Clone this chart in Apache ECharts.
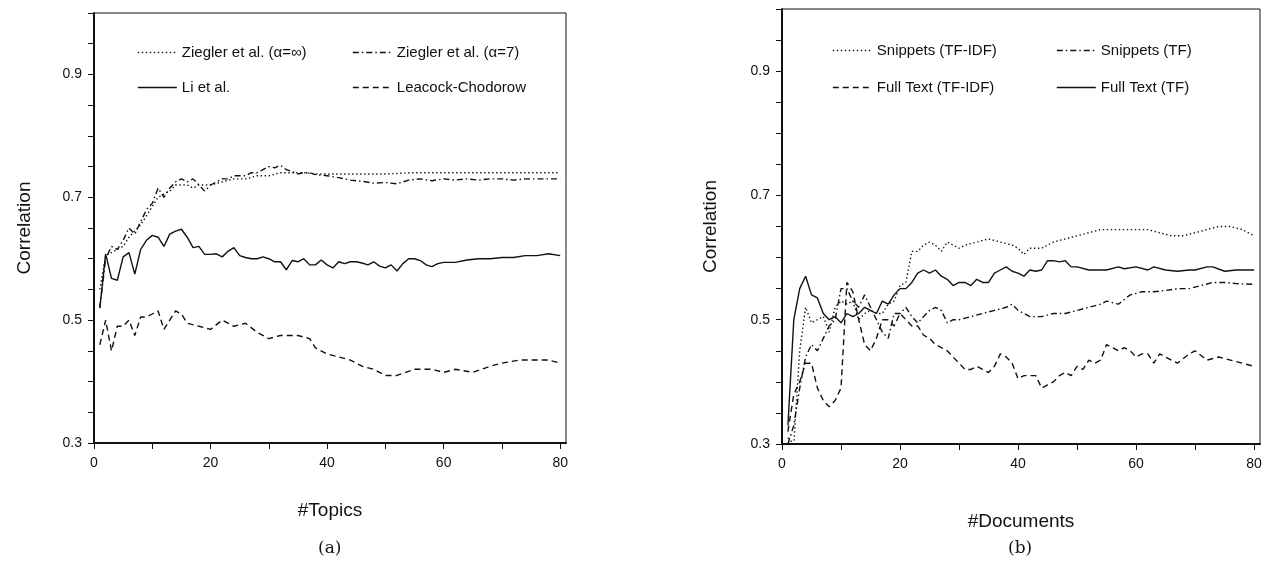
<!DOCTYPE html>
<html><head><meta charset="utf-8">
<script src="https://cdn.jsdelivr.net/npm/echarts@6/dist/echarts.min.js"></script>
<style>html,body{margin:0;padding:0;background:#fff}#c{width:1274px;height:578px}</style>
</head><body><div id="c"></div>
<script>
// ---- data (x = #Topics / #Documents, y = correlation) ----
const zieglerInf = [[1,0.55],[2,0.605],[3,0.61],[4,0.615],[5,0.62],[6,0.635],[7,0.645],[8,0.655],[9,0.67],[10,0.685],[11,0.7],[12,0.705],[13,0.71],[14,0.72],[15,0.72],[16,0.72],[17,0.715],[18,0.72],[19,0.72],[20,0.72],[22,0.725],[24,0.73],[26,0.73],[28,0.735],[30,0.735],[32,0.74],[34,0.74],[36,0.74],[38,0.738],[40,0.738],[45,0.738],[50,0.738],[55,0.74],[60,0.74],[65,0.74],[70,0.74],[75,0.74],[80,0.74]];
const ziegler7 = [[1,0.52],[2,0.6],[3,0.62],[4,0.615],[5,0.63],[6,0.65],[7,0.64],[8,0.66],[9,0.68],[10,0.69],[11,0.715],[12,0.7],[13,0.715],[14,0.725],[15,0.73],[16,0.725],[17,0.73],[18,0.72],[19,0.71],[20,0.72],[21,0.725],[22,0.73],[23,0.73],[24,0.735],[25,0.735],[26,0.735],[27,0.74],[28,0.74],[29,0.745],[30,0.75],[31,0.748],[32,0.752],[33,0.745],[34,0.742],[35,0.738],[36,0.74],[37,0.74],[38,0.737],[40,0.735],[42,0.732],[44,0.728],[46,0.726],[48,0.723],[50,0.724],[52,0.722],[54,0.728],[56,0.73],[58,0.727],[60,0.73],[62,0.728],[64,0.73],[66,0.728],[68,0.73],[70,0.73],[72,0.728],[74,0.73],[76,0.73],[78,0.73],[80,0.73]];
const liEtAl = [[1,0.52],[2,0.608],[3,0.568],[4,0.565],[5,0.603],[6,0.61],[7,0.575],[8,0.615],[9,0.63],[10,0.638],[11,0.635],[12,0.62],[13,0.64],[14,0.645],[15,0.648],[16,0.635],[17,0.618],[18,0.62],[19,0.607],[20,0.607],[21,0.608],[22,0.603],[23,0.612],[24,0.618],[25,0.605],[26,0.602],[27,0.6],[28,0.6],[29,0.603],[30,0.6],[31,0.595],[32,0.595],[33,0.582],[34,0.597],[35,0.595],[36,0.6],[37,0.59],[38,0.59],[39,0.598],[40,0.59],[41,0.585],[42,0.595],[43,0.592],[44,0.595],[45,0.595],[46,0.593],[47,0.59],[48,0.595],[49,0.588],[50,0.585],[51,0.59],[52,0.58],[53,0.592],[54,0.6],[55,0.6],[56,0.597],[57,0.59],[58,0.587],[59,0.592],[60,0.594],[62,0.594],[64,0.598],[66,0.6],[68,0.6],[70,0.602],[72,0.602],[74,0.605],[76,0.605],[78,0.608],[80,0.605]];
const leacock = [[1,0.46],[2,0.5],[3,0.45],[4,0.49],[5,0.49],[6,0.5],[7,0.475],[8,0.505],[9,0.505],[10,0.51],[11,0.515],[12,0.485],[13,0.5],[14,0.515],[15,0.51],[16,0.495],[18,0.49],[20,0.485],[22,0.5],[24,0.49],[26,0.495],[28,0.48],[30,0.47],[32,0.475],[35,0.475],[37,0.47],[38,0.455],[40,0.445],[42,0.44],[44,0.435],[46,0.425],[48,0.42],[50,0.41],[52,0.41],[55,0.42],[58,0.42],[60,0.415],[62,0.42],[65,0.415],[68,0.425],[70,0.43],[73,0.435],[75,0.435],[78,0.435],[80,0.43]];

const snipTfidf = [[1,0.31],[2,0.3],[3,0.45],[4,0.52],[5,0.495],[6,0.5],[7,0.505],[8,0.48],[9,0.52],[10,0.53],[11,0.525],[12,0.53],[13,0.5],[14,0.51],[15,0.515],[16,0.51],[17,0.51],[18,0.525],[19,0.53],[20,0.555],[21,0.56],[22,0.61],[23,0.61],[24,0.62],[25,0.625],[26,0.62],[27,0.61],[28,0.625],[29,0.62],[30,0.615],[31,0.62],[33,0.625],[35,0.63],[37,0.625],[39,0.62],[40,0.615],[41,0.605],[42,0.615],[44,0.615],[46,0.625],[48,0.63],[50,0.635],[52,0.64],[54,0.645],[56,0.645],[58,0.645],[60,0.645],[62,0.645],[64,0.64],[66,0.635],[68,0.635],[70,0.64],[72,0.645],[74,0.65],[76,0.65],[78,0.645],[80,0.635]];
const snipTf = [[1,0.3],[2,0.33],[3,0.39],[4,0.44],[5,0.46],[6,0.45],[7,0.47],[8,0.49],[9,0.5],[10,0.55],[11,0.55],[12,0.53],[13,0.52],[14,0.54],[15,0.52],[16,0.5],[17,0.48],[18,0.47],[19,0.51],[20,0.51],[21,0.52],[22,0.505],[23,0.495],[24,0.505],[25,0.515],[26,0.52],[27,0.515],[28,0.495],[29,0.5],[30,0.5],[32,0.505],[34,0.51],[36,0.515],[38,0.52],[39,0.525],[40,0.515],[41,0.51],[42,0.505],[44,0.505],[46,0.51],[48,0.51],[50,0.515],[52,0.52],[54,0.525],[55,0.53],[57,0.525],[59,0.54],[61,0.545],[63,0.545],[65,0.547],[67,0.55],[69,0.55],[71,0.555],[73,0.56],[75,0.56],[77,0.558],[80,0.557]];
const fullTfidf = [[1,0.32],[2,0.38],[3,0.4],[4,0.43],[5,0.43],[6,0.39],[7,0.37],[8,0.36],[9,0.37],[10,0.39],[11,0.56],[12,0.545],[13,0.5],[14,0.46],[15,0.45],[16,0.47],[17,0.5],[18,0.5],[19,0.49],[20,0.51],[21,0.5],[22,0.49],[23,0.49],[24,0.475],[25,0.47],[26,0.46],[27,0.455],[28,0.45],[29,0.44],[30,0.43],[31,0.42],[32,0.42],[33,0.425],[34,0.42],[35,0.415],[36,0.425],[37,0.445],[38,0.44],[39,0.43],[40,0.405],[41,0.41],[42,0.41],[43,0.41],[44,0.39],[45,0.395],[46,0.4],[47,0.41],[48,0.415],[49,0.41],[50,0.425],[51,0.42],[52,0.435],[53,0.43],[54,0.435],[55,0.46],[56,0.455],[57,0.45],[58,0.455],[59,0.45],[60,0.44],[61,0.445],[62,0.445],[63,0.43],[64,0.445],[65,0.44],[67,0.43],[69,0.445],[70,0.45],[72,0.435],[74,0.44],[76,0.435],[78,0.43],[80,0.425]];
const fullTf = [[1,0.33],[2,0.5],[3,0.55],[4,0.57],[5,0.54],[6,0.535],[7,0.51],[8,0.5],[9,0.505],[10,0.495],[11,0.51],[12,0.505],[13,0.51],[14,0.52],[15,0.515],[16,0.51],[17,0.53],[18,0.525],[19,0.54],[20,0.55],[21,0.55],[22,0.56],[23,0.575],[24,0.58],[25,0.575],[26,0.58],[27,0.57],[28,0.565],[29,0.555],[30,0.56],[31,0.56],[32,0.555],[33,0.565],[34,0.56],[35,0.56],[36,0.575],[37,0.58],[38,0.585],[39,0.578],[40,0.575],[41,0.57],[42,0.58],[43,0.578],[44,0.58],[45,0.595],[46,0.595],[47,0.593],[48,0.595],[49,0.585],[50,0.585],[52,0.58],[55,0.58],[57,0.585],[58,0.582],[60,0.585],[62,0.58],[63,0.585],[65,0.58],[67,0.578],[69,0.58],[70,0.58],[72,0.585],[73,0.585],[75,0.578],[77,0.58],[80,0.58]];

const yTickLabels = ['0.3','0.5','0.7','0.9'];
const xTickLabels = ['0','20','40','60','80'];

const seriesNamesA = ['Ziegler et al. (α=∞)','Ziegler et al. (α=7)','Li et al.','Leacock-Chodorow'];
const seriesNamesB = ['Snippets (TF-IDF)','Snippets (TF)','Full Text (TF-IDF)','Full Text (TF)'];

// ---- styling ----
const FONT = '"Liberation Sans", Arial, sans-serif';
const INK = '#111';
const DOT = [1.4, 2.6], DASHDOT = [6, 3, 1.5, 3], DASH = [6, 4], SOLID = 'solid';

function yAxis(grid, gap) {
  return {
    gridIndex: grid, type: 'value', min: 0.3, max: 1.0, interval: 0.05,
    name: 'Correlation', nameLocation: 'middle', nameGap: gap,
    nameTextStyle: {fontFamily: FONT, fontSize: 19, color: INK},
    axisLine: {show: true, lineStyle: {color: INK, width: 2}},
    axisTick: {show: true, length: 6, lineStyle: {color: INK}},
    splitLine: {show: false},
    axisLabel: {fontFamily: FONT, fontSize: 14, color: INK, margin: 12,
      formatter: v => { const s = v.toFixed(1); return (Math.abs(v*10 - Math.round(v*10)) < 1e-6 && yTickLabels.includes(s)) ? s : ''; }}
  };
}
function xAxis(grid, name, gap) {
  return {
    gridIndex: grid, type: 'value', min: 0, max: 81, interval: 10,
    name: name, nameLocation: 'middle', nameGap: gap,
    nameTextStyle: {fontFamily: FONT, fontSize: 19, color: INK},
    axisLine: {show: true, onZero: false, lineStyle: {color: INK, width: 2}},
    axisTick: {show: true, length: 6, lineStyle: {color: INK}},
    splitLine: {show: false},
    axisLabel: {fontFamily: FONT, fontSize: 14, color: INK, margin: 13, showMaxLabel: false,
      formatter: v => xTickLabels.includes(String(Math.round(v))) && Math.abs(v - Math.round(v)) < 1e-6 ? String(Math.round(v)) : ''}
  };
}
function line(name, data, idx, type) {
  return {name, type: 'line', xAxisIndex: idx, yAxisIndex: idx, data, symbol: 'none', showSymbol: false,
    lineStyle: {color: INK, width: 1.4, type}, itemStyle: {color: INK}, animation: false};
}
function legend(name, left, top) {
  return {show: true, data: [name], left, top, itemWidth: 39, itemHeight: 14, itemGap: 8,
    itemStyle: {opacity: 0}, lineStyle: {width: 1.6},
    textStyle: {fontFamily: FONT, fontSize: 15, color: INK}, selectedMode: false};
}

const chart = echarts.init(document.getElementById('c'), null, {renderer: 'canvas'});
chart.setOption({
  backgroundColor: '#fff',
  animation: false,
  grid: [
    {left: 94, top: 13, width: 472, height: 430, show: true, borderColor: INK, borderWidth: 1},
    {left: 782, top: 9, width: 478, height: 435, show: true, borderColor: INK, borderWidth: 1}
  ],
  xAxis: [xAxis(0, '#Topics', 58), xAxis(1, '#Documents', 68)],
  yAxis: [yAxis(0, 60), yAxis(1, 62)],
  legend: [
    legend(seriesNamesA[0], 132, 40), legend(seriesNamesA[1], 347, 40),
    legend(seriesNamesA[2], 132, 75), legend(seriesNamesA[3], 347, 75),
    legend(seriesNamesB[0], 827, 38), legend(seriesNamesB[1], 1051, 38),
    legend(seriesNamesB[2], 827, 75), legend(seriesNamesB[3], 1051, 75)
  ],
  graphic: [
    {type: 'text', left: 318, top: 540, style: {text: '(a)', font: '17px "DejaVu Serif", "Liberation Serif", serif', fill: INK}},
    {type: 'text', left: 1008, top: 540, style: {text: '(b)', font: '17px "DejaVu Serif", "Liberation Serif", serif', fill: INK}}
  ],
  series: [
    line(seriesNamesA[0], zieglerInf, 0, DOT),
    line(seriesNamesA[1], ziegler7, 0, DASHDOT),
    line(seriesNamesA[2], liEtAl, 0, SOLID),
    line(seriesNamesA[3], leacock, 0, DASH),
    line(seriesNamesB[0], snipTfidf, 1, DOT),
    line(seriesNamesB[1], snipTf, 1, DASHDOT),
    line(seriesNamesB[2], fullTfidf, 1, DASH),
    line(seriesNamesB[3], fullTf, 1, SOLID)
  ]
});
</script></body></html>
